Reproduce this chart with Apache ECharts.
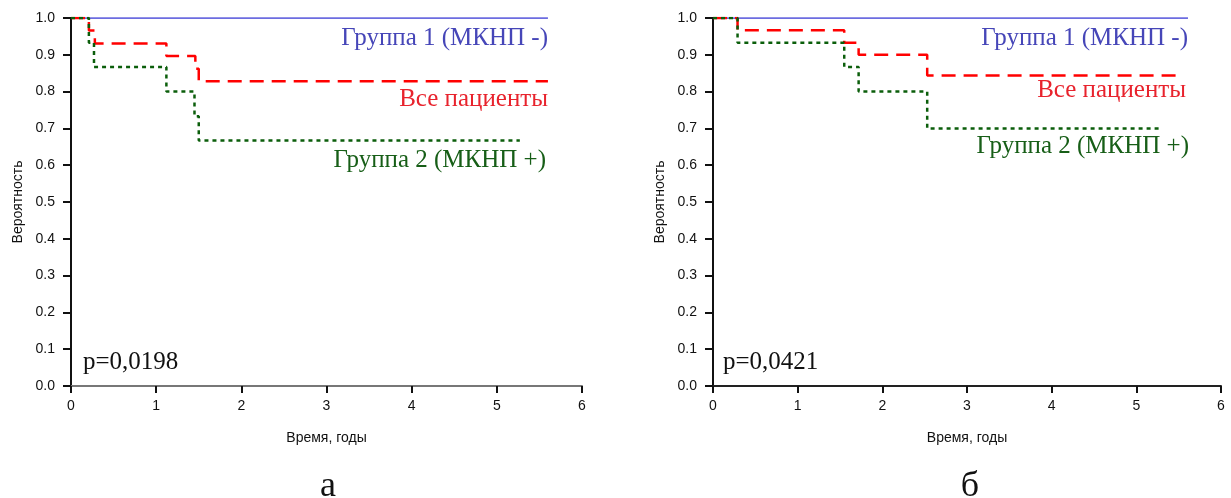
<!DOCTYPE html>
<html>
<head>
<meta charset="utf-8">
<script src="https://cdn.jsdelivr.net/npm/echarts@6/dist/echarts.min.js"></script>
<style>
html, body { margin: 0; padding: 0; background: #fff; }
#main { width: 1231px; height: 498px; }
</style>
</head>
<body>
<div id="main"></div>
<script>
// --- данные (а) ---
var tA_all = [0, 0.21, 0.28, 1.12, 1.46, 1.50, 5.60];
var sA_all = [1, 0.966, 0.931, 0.897, 0.862, 0.828, 0.828];
var tA_g1 = [0, 5.60];
var sA_g1 = [1, 1];
var tA_g2 = [0, 0.21, 0.27, 1.12, 1.45, 1.50, 5.27];
var sA_g2 = [1, 0.933, 0.867, 0.800, 0.733, 0.667, 0.667];

// --- данные (б) ---
var tB_all = [0, 0.29, 1.55, 1.72, 2.53, 5.54];
var sB_all = [1, 0.967, 0.933, 0.900, 0.844, 0.844];
var tB_g1 = [0, 5.61];
var sB_g1 = [1, 1];
var tB_g2 = [0, 0.29, 1.55, 1.72, 2.53, 5.31];
var sB_g2 = [1, 0.933, 0.867, 0.800, 0.700, 0.700];

var xTicks = [0, 1, 2, 3, 4, 5, 6];
var yTicks = [0, 0.1, 0.2, 0.3, 0.4, 0.5, 0.6, 0.7, 0.8, 0.9, 1.0];

function pairs(t, s) {
	var out = [];
	for (var i = 0; i < t.length; i++) out.push([t[i], s[i]]);
	return out;
}

function xAxisOpt(idx, lineColor) {
	return {
		gridIndex: idx,
		type: 'value',
		min: xTicks[0],
		max: xTicks[xTicks.length - 1],
		interval: 1,
		name: 'Время, годы',
		nameLocation: 'middle',
		nameGap: 45,
		nameTextStyle: { fontFamily: 'Liberation Sans', fontSize: 14, color: '#111' },
		axisLine: { lineStyle: { color: lineColor, width: 2 } },
		axisTick: { length: 7, lineStyle: { color: '#111', width: 2 } },
		axisLabel: { fontFamily: 'Liberation Sans', fontSize: 14, color: '#111', margin: 13 },
		splitLine: { show: false }
	};
}

function yAxisOpt(idx) {
	return {
		gridIndex: idx,
		type: 'value',
		min: yTicks[0],
		max: yTicks[yTicks.length - 1],
		interval: 0.1,
		name: 'Вероятность',
		nameLocation: 'middle',
		nameGap: 46,
		nameRotate: 90,
		nameTextStyle: { fontFamily: 'Liberation Sans', fontSize: 14, color: '#111' },
		axisLine: { lineStyle: { color: '#111', width: 2 } },
		axisTick: { length: 8, lineStyle: { color: '#111', width: 2 } },
		axisLabel: {
			fontFamily: 'Liberation Sans', fontSize: 14, color: '#111', margin: 16,
			formatter: function (v) { return v.toFixed(1); }
		},
		splitLine: { show: false }
	};
}

function km(idx, t, s, color, width, dash, z) {
	return {
		type: 'line',
		xAxisIndex: idx,
		yAxisIndex: idx,
		step: 'end',
		symbol: 'none',
		animation: false,
		z: z,
		lineStyle: { color: color, width: width, type: dash },
		data: pairs(t, s)
	};
}

function txt(x, y, s, color, size, align) {
	return {
		type: 'text',
		x: x,
		y: y,
		style: {
			text: s,
			fill: color,
			font: size + 'px "Liberation Serif"',
			textAlign: align || 'left',
			textVerticalAlign: 'middle'
		}
	};
}

var chart = echarts.init(document.getElementById('main'));
chart.setOption({
	animation: false,
	grid: [
		{ left: 71, top: 18, width: 511, height: 368 },
		{ left: 713, top: 18, width: 508, height: 368 }
	],
	xAxis: [xAxisOpt(0, '#777'), xAxisOpt(1, '#222')],
	yAxis: [yAxisOpt(0), yAxisOpt(1)],
	series: [
		km(0, tA_g1, sA_g1, '#3b3bd6', 1.5, 'solid', 2),
		km(0, tA_all, sA_all, '#ff0000', 2.5, [14, 8], 3),
		km(0, tA_g2, sA_g2, '#0b5e0b', 2.5, [4, 4], 4),
		km(1, tB_g1, sB_g1, '#3b3bd6', 1.5, 'solid', 2),
		km(1, tB_all, sB_all, '#ff0000', 2.5, [14, 8], 3),
		km(1, tB_g2, sB_g2, '#0b5e0b', 2.5, [4, 4], 4)
	],
	graphic: [
		txt(548, 38, 'Группа 1 (МКНП -)', '#4646b8', 25, 'right'),
		txt(548, 99, 'Все пациенты', '#e8232d', 25, 'right'),
		txt(546, 160, 'Группа 2 (МКНП +)', '#175e17', 25, 'right'),
		txt(83, 362, 'p=0,0198', '#111', 25),
		txt(1188, 38, 'Группа 1 (МКНП -)', '#4646b8', 25, 'right'),
		txt(1186, 90, 'Все пациенты', '#e8232d', 25, 'right'),
		txt(1189, 146, 'Группа 2 (МКНП +)', '#175e17', 25, 'right'),
		txt(723, 362, 'p=0,0421', '#111', 25),
		txt(328, 487, 'а', '#111', 36, 'center'),
		txt(970, 487, 'б', '#111', 36, 'center')
	]
});
</script>
</body>
</html>
